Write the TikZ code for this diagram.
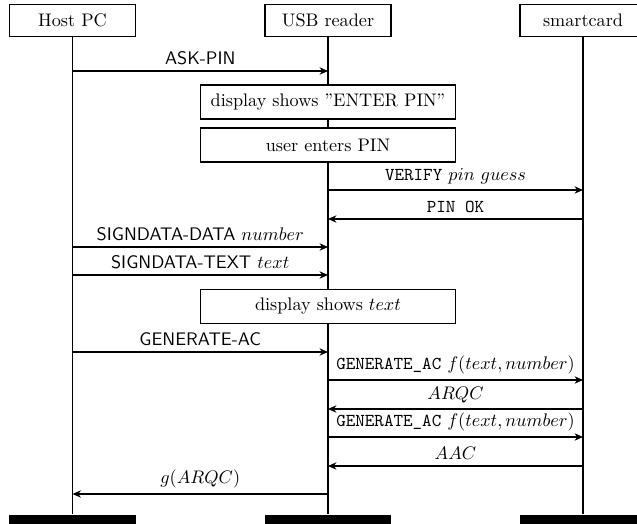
\documentclass[tikz,border=0pt]{standalone}
\usetikzlibrary{arrows.meta}
\begin{document}
\begin{tikzpicture}[x=0.55pt,y=-0.55pt,line width=0.8pt,
  hdr/.style={draw,fill=white,minimum width=69.3pt,minimum height=17.5pt,inner sep=0pt,font=\normalsize},
  endbar/.style={fill=black,draw=none,minimum width=69.8pt,minimum height=8pt,inner sep=0pt},
  actbox/.style={draw,fill=white,minimum width=140.25pt,minimum height=18.7pt,inner sep=0pt},
  msg/.style={-{Stealth[length=4.6pt,width=4pt,inset=1.4pt]}},
  lbl/.style={midway,above,inner sep=3pt}]
\clip (0,0) rectangle (637,524);
% headers
\node[hdr] (hostH) at (72.5,20.5) {Host PC};
\node[hdr] (usbH) at (328,20.5) {USB reader};
\node[hdr] (cardH) at (583,20.5) {smartcard};
% end bars
\node[endbar] (hostE) at (72.5,522) {};
\node[endbar] (usbE) at (328,522) {};
\node[endbar] (cardE) at (583,522) {};
% lifelines
\draw (hostH.south) -- (hostE.north);
\draw (usbH.south) -- (usbE.north);
\draw (cardH.south) -- (cardE.north);
% action boxes
\node[actbox] (a1) at (328,102) {display shows ''ENTER PIN''};
\node[actbox] (a2) at (328,145) {user enters PIN};
\node[actbox] (a3) at (328,306.5) {display shows $text$};
% message coordinates
\coordinate (h1) at (72.5,71);   \coordinate (u1) at (328,71);
\coordinate (u2) at (328,190);   \coordinate (c2) at (583,190);
\coordinate (u3) at (328,219);   \coordinate (c3) at (583,219);
\coordinate (h4) at (72.5,247);  \coordinate (u4) at (328,247);
\coordinate (h5) at (72.5,275);  \coordinate (u5) at (328,275);
\coordinate (h6) at (72.5,352);  \coordinate (u6) at (328,352);
\coordinate (u7) at (328,380);   \coordinate (c7) at (583,380);
\coordinate (u8) at (328,409);   \coordinate (c8) at (583,409);
\coordinate (u9) at (328,437);   \coordinate (c9) at (583,437);
\coordinate (u10) at (328,466);  \coordinate (c10) at (583,466);
\coordinate (h11) at (72.5,494); \coordinate (u11) at (328,494);
% messages
\draw[msg] (h1) -- (u1) node[lbl] {\textsf{ASK-PIN}};
\draw[msg] (u2) -- (c2) node[lbl] {\texttt{VERIFY} $pin\ guess$};
\draw[msg] (c3) -- (u3) node[lbl] {\texttt{PIN OK}};
\draw[msg] (h4) -- (u4) node[lbl] {\textsf{SIGNDATA-DATA} $number$};
\draw[msg] (h5) -- (u5) node[lbl] {\textsf{SIGNDATA-TEXT} $text$};
\draw[msg] (h6) -- (u6) node[lbl] {\textsf{GENERATE-AC}};
\draw[msg] (u7) -- (c7) node[lbl] {\texttt{GENERATE\_AC} $f(text,number)$};
\draw[msg] (c8) -- (u8) node[lbl] {$ARQC$};
\draw[msg] (u9) -- (c9) node[lbl] {\texttt{GENERATE\_AC} $f(text,number)$};
\draw[msg] (c10) -- (u10) node[lbl] {$AAC$};
\draw[msg] (u11) -- (h11) node[lbl] {$g(ARQC)$};
\end{tikzpicture}
\end{document}
